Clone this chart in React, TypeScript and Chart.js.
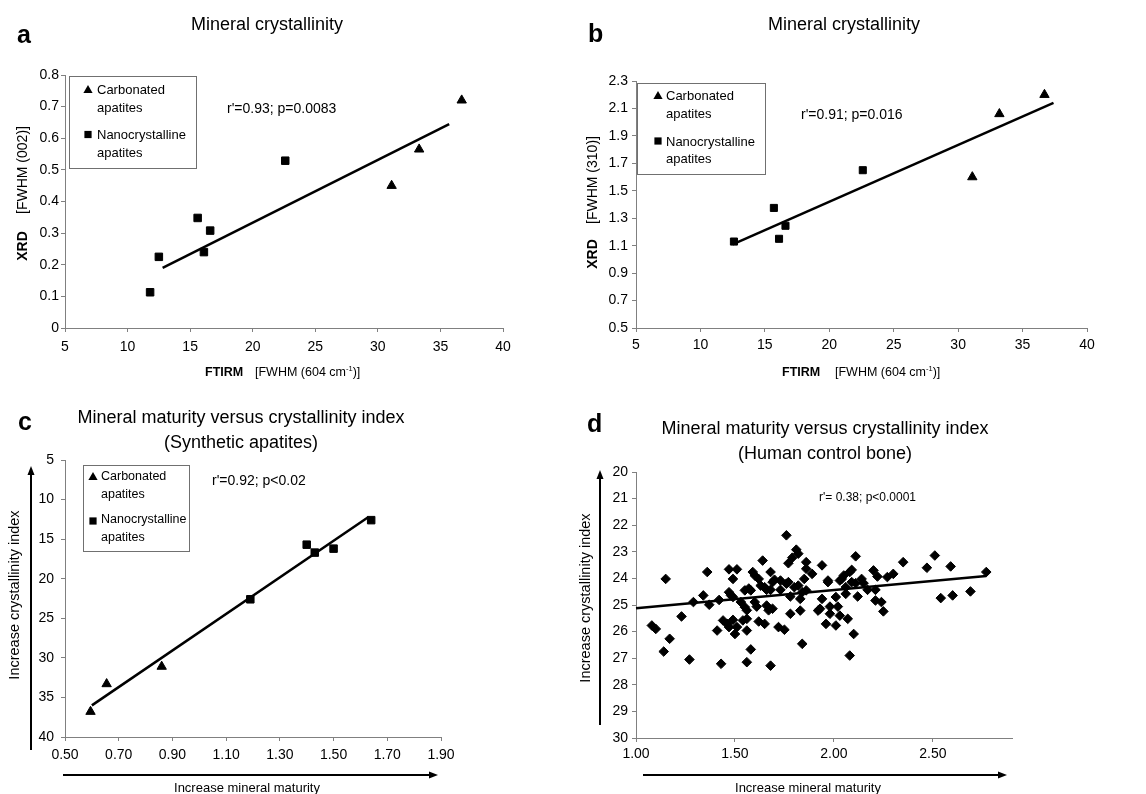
import React, { useEffect, useRef } from 'react';
import { Chart, registerables } from 'chart.js';
Chart.register(...registerables);

const FONT = '"Liberation Sans", Arial, Helvetica, sans-serif';

// ---------- Panel a: XRD (002) vs FTIRM ----------
const aCarbX = [31.1, 33.3, 36.7];
const aCarbY = [0.45, 0.565, 0.72];
const aNanoX = [11.8, 12.5, 15.6, 16.1, 16.6, 22.6];
const aNanoY = [0.113, 0.225, 0.348, 0.24, 0.308, 0.529];
const aTrendX = [12.8, 35.7];
const aTrendY = [0.19, 0.645];
const aXTicks = [5, 10, 15, 20, 25, 30, 35, 40];
const aYTicks = [0, 0.1, 0.2, 0.3, 0.4, 0.5, 0.6, 0.7, 0.8];

// ---------- Panel b: XRD (310) vs FTIRM ----------
const bCarbX = [31.1, 33.2, 36.7];
const bCarbY = [1.6, 2.06, 2.2];
const bNanoX = [12.6, 15.7, 16.1, 16.6, 22.6];
const bNanoY = [1.13, 1.375, 1.15, 1.245, 1.65];
const bTrendX = [12.5, 37.4];
const bTrendY = [1.11, 2.14];
const bXTicks = [5, 10, 15, 20, 25, 30, 35, 40];
const bYTicks = [0.5, 0.7, 0.9, 1.1, 1.3, 1.5, 1.7, 1.9, 2.1, 2.3];

// ---------- Panel c: synthetic apatites ----------
const cCarbX = [0.595, 0.655, 0.86];
const cCarbY = [36.8, 33.3, 31.1];
const cNanoX = [1.19, 1.4, 1.43, 1.5, 1.64];
const cNanoY = [22.6, 15.7, 16.7, 16.2, 12.6];
const cTrendX = [0.6, 1.63];
const cTrendY = [36.0, 12.2];
const cXTicks = [0.5, 0.7, 0.9, 1.1, 1.3, 1.5, 1.7, 1.9];
const cYTicks = [5, 10, 15, 20, 25, 30, 35, 40];

// ---------- Panel d: human control bone ----------
const dX = [
  1.08, 1.10, 1.15, 1.14, 1.17, 1.23, 1.27, 1.29, 1.34, 1.36,
  1.37, 1.42, 1.41, 1.43, 1.44, 1.46, 1.47, 1.47, 1.48, 1.49,
  1.47, 1.49, 1.49, 1.51, 1.50, 1.51, 1.54, 1.53, 1.55, 1.55,
  1.56, 1.56, 1.56, 1.56, 1.57, 1.58, 1.58, 1.59, 1.60, 1.60,
  1.61, 1.62, 1.62, 1.63, 1.64, 1.65, 1.65, 1.66, 1.66, 1.67,
  1.68, 1.68, 1.68, 1.69, 1.69, 1.70, 1.72, 1.73, 1.73, 1.75,
  1.76, 1.76, 1.77, 1.77, 1.78, 1.78, 1.79, 1.80, 1.81, 1.82,
  1.82, 1.83, 1.84, 1.83, 1.84, 1.85, 1.86, 1.86, 1.86, 1.89,
  1.94, 1.92, 1.93, 1.94, 1.96, 1.97, 1.97, 1.98, 1.98, 2.01,
  2.01, 2.02, 2.03, 2.03, 2.04, 2.05, 2.06, 2.06, 2.07, 2.08,
  2.08, 2.09, 2.09, 2.10, 2.11, 2.11, 2.12, 2.14, 2.15, 2.17,
  2.20, 2.21, 2.22, 2.21, 2.24, 2.25, 2.27, 2.30, 2.35, 2.47,
  2.51, 2.54, 2.59, 2.60, 2.69, 2.77,
];
const dY = [
  25.77, 25.90, 24.02, 26.75, 26.27, 25.43, 27.05, 24.89, 24.64, 23.76,
  24.99, 24.81, 25.96, 27.21, 25.58, 25.71, 24.52, 23.66, 24.64, 24.70,
  25.83, 25.56, 24.02, 23.66, 26.09, 25.83, 25.58, 24.89, 24.45, 25.08,
  25.96, 27.15, 25.52, 25.20, 24.38, 26.67, 24.45, 23.76, 24.89, 23.89,
  25.06, 25.62, 24.02, 24.27, 23.33, 24.33, 25.71, 25.02, 24.43, 25.20,
  27.28, 23.76, 24.43, 25.14, 24.14, 24.05, 25.83, 24.43, 24.08, 25.93,
  24.20, 22.38, 23.43, 24.14, 24.68, 25.33, 23.22, 24.33, 22.92, 24.27,
  23.07, 25.21, 26.46, 24.77, 24.52, 24.02, 23.39, 24.45, 23.64, 23.83,
  23.51, 25.21, 25.14, 24.77, 25.71, 24.08, 24.14, 25.33, 25.06, 24.70,
  25.77, 25.06, 24.08, 25.40, 24.02, 23.89, 24.33, 24.58, 25.52, 26.90,
  23.76, 23.68, 24.14, 26.09, 24.18, 23.17, 24.68, 24.02, 24.18, 24.43,
  23.70, 24.43, 23.93, 24.83, 24.89, 25.24, 23.95, 23.83, 23.39, 23.60,
  23.14, 24.74, 23.55, 24.64, 24.49, 23.76,
];
const dTrendX = [1.0, 2.77];
const dTrendY = [25.12, 23.91];
const dXTicks = [1.0, 1.5, 2.0, 2.5];
const dYTicks = [20, 21, 22, 23, 24, 25, 26, 27, 28, 29, 30];

const zip = (xs: number[], ys: number[]) => xs.map((x, i) => ({ x, y: ys[i] }));

type AxisSpec = {
  min: number; max: number; ticks: number[]; fmt: (v: number) => string;
  pad: number; size: number; horizontal: boolean; reverse?: boolean;
};

function axis(s: AxisSpec): any {
  return {
    type: 'linear',
    position: s.horizontal ? 'bottom' : 'left',
    min: s.min,
    max: s.max,
    reverse: !!s.reverse,
    bounds: 'data',
    afterBuildTicks: (sc: any) => { sc.ticks = s.ticks.map((v) => ({ value: v })); },
    afterFit: (sc: any) => { if (s.horizontal) sc.height = s.size; else sc.width = s.size; },
    ticks: {
      callback: (v: any) => s.fmt(Number(v)),
      color: '#000',
      font: { family: FONT, size: 14 },
      padding: s.pad,
      autoSkip: false,
      maxRotation: 0,
      minRotation: 0,
    },
    grid: { drawOnChartArea: false, drawTicks: true, tickLength: 4, color: '#808080', lineWidth: 1 },
    border: { display: true, color: '#808080', width: 1 },
  };
}

function markers(xs: number[], ys: number[], style: string, r: number): any {
  return {
    data: zip(xs, ys), pointStyle: style, pointRadius: r, pointHoverRadius: r,
    backgroundColor: '#000', borderColor: '#000', borderWidth: 1, showLine: false, clip: false,
  };
}
function trend(xs: number[], ys: number[]): any {
  return {
    data: zip(xs, ys), showLine: true, borderColor: '#000', borderWidth: 2.5,
    pointRadius: 0, pointHoverRadius: 0, fill: false, clip: false,
  };
}

function config(datasets: any[], x: any, y: any, padding: any): any {
  return {
    type: 'scatter',
    data: { datasets },
    options: {
      responsive: false,
      maintainAspectRatio: false,
      animation: false,
      events: [],
      layout: { padding },
      plugins: { legend: { display: false }, tooltip: { enabled: false }, title: { display: false } },
      scales: { x, y },
    },
  };
}

const fmt1 = (v: number) => (Math.abs(v) < 1e-9 ? '0' : v.toFixed(1));
const fmt2 = (v: number) => v.toFixed(2);
const fmt0 = (v: number) => String(Math.round(v));

const W = 573;
const H = 397;

const builders = [
  () => config(
    [trend(aTrendX, aTrendY), markers(aCarbX, aCarbY, 'triangle', 5.4), markers(aNanoX, aNanoY, 'rect', 5.3)],
    axis({ min: 5, max: 40, ticks: aXTicks, fmt: fmt0, pad: 7, size: 30, horizontal: true }),
    axis({ min: 0, max: 0.8, ticks: aYTicks, fmt: fmt1, pad: 2, size: 65, horizontal: false }),
    { left: 0, top: 75, right: W - 503, bottom: H - 328 - 30 },
  ),
  () => config(
    [trend(bTrendX, bTrendY), markers(bCarbX, bCarbY, 'triangle', 5.4), markers(bNanoX, bNanoY, 'rect', 5.0)],
    axis({ min: 5, max: 40, ticks: bXTicks, fmt: fmt0, pad: 5, size: 30, horizontal: true }),
    axis({ min: 0.5, max: 2.3, ticks: bYTicks, fmt: fmt1, pad: 4, size: 63, horizontal: false }),
    { left: 0, top: 81, right: W - 514, bottom: H - 328 - 30 },
  ),
  () => config(
    [trend(cTrendX, cTrendY), markers(cCarbX, cCarbY, 'triangle', 5.4), markers(cNanoX, cNanoY, 'rect', 5.3)],
    axis({ min: 0.5, max: 1.9, ticks: cXTicks, fmt: fmt2, pad: 6, size: 30, horizontal: true }),
    axis({ min: 5, max: 40, ticks: cYTicks, fmt: fmt0, pad: 7, size: 65, horizontal: false, reverse: true }),
    { left: 0, top: 63, right: W - 441, bottom: H - 340 - 30 },
  ),
  () => config(
    [trend(dTrendX, dTrendY), markers(dX, dY, 'rectRot', 4.8)],
    axis({ min: 1.0, max: 2.9, ticks: dXTicks, fmt: fmt2, pad: 4, size: 30, horizontal: true }),
    axis({ min: 20, max: 30, ticks: dYTicks, fmt: fmt0, pad: 4, size: 63, horizontal: false, reverse: true }),
    { left: 0, top: 75, right: W - 439, bottom: H - 341 - 30 },
  ),
];

function ChartBox({ left, top, build }: { left: number; top: number; build: () => any }) {
  const ref = useRef<HTMLCanvasElement>(null);
  useEffect(() => {
    const chart = new Chart(ref.current as HTMLCanvasElement, build());
    return () => chart.destroy();
  }, []);
  return (
    <div style={{ position: 'absolute', left, top, width: W, height: H }}>
      <canvas ref={ref} width={W} height={H} style={{ width: W, height: H, display: 'block' }} />
    </div>
  );
}

function Txt({ x, base, fs, bold, center, children }: any) {
  const style: any = {
    position: 'absolute', left: x, top: base - 0.8465 * fs, fontSize: fs, lineHeight: fs + 'px',
    fontFamily: FONT, fontWeight: bold ? 700 : 400, whiteSpace: 'nowrap', color: '#000',
  };
  if (center) style.transform = 'translateX(-50%)';
  return <div style={style}>{children}</div>;
}

function VTxt({ cx, cy, fs, bold, children }: any) {
  return (
    <div style={{
      position: 'absolute', left: cx, top: cy, fontSize: fs, lineHeight: fs + 'px', fontFamily: FONT,
      fontWeight: bold ? 700 : 400, whiteSpace: 'nowrap', color: '#000',
      transform: 'translate(-50%,-50%) rotate(-90deg)',
    }}>{children}</div>
  );
}

function Box({ x, y, w, h }: any) {
  return <div style={{ position: 'absolute', left: x, top: y, width: w, height: h, border: '1px solid #707070', boxSizing: 'border-box' }} />;
}

function LegendMarks({ tri, sq }: any) {
  return (
    <svg width={1146} height={794} style={{ position: 'absolute', left: 0, top: 0, pointerEvents: 'none' }}>
      {tri.map((p: number[], i: number) => (
        <polygon key={'t' + i} points={`${p[0]},${p[1] - 4.5} ${p[0] + 4.6},${p[1] + 3.5} ${p[0] - 4.6},${p[1] + 3.5}`} fill="#000" />
      ))}
      {sq.map((p: number[], i: number) => (
        <rect key={'s' + i} x={p[0] - 3.6} y={p[1] - 3.6} width={7.2} height={7.2} fill="#000" />
      ))}
    </svg>
  );
}

function Arrows() {
  const head = (x: number, y: number, dir: 'up' | 'right') =>
    dir === 'up'
      ? `${x},${y} ${x + 3.5},${y + 9} ${x - 3.5},${y + 9}`
      : `${x},${y} ${x - 9},${y - 3.5} ${x - 9},${y + 3.5}`;
  return (
    <svg width={1146} height={794} style={{ position: 'absolute', left: 0, top: 0, pointerEvents: 'none' }}>
      <line x1={31} y1={750} x2={31} y2={474} stroke="#000" strokeWidth={2} />
      <polygon points={head(31, 466, 'up')} fill="#000" />
      <line x1={63} y1={775} x2={430} y2={775} stroke="#000" strokeWidth={2} />
      <polygon points={head(438, 775, 'right')} fill="#000" />
      <line x1={600} y1={725} x2={600} y2={478} stroke="#000" strokeWidth={2} />
      <polygon points={head(600, 470, 'up')} fill="#000" />
      <line x1={643} y1={775} x2={999} y2={775} stroke="#000" strokeWidth={2} />
      <polygon points={head(1007, 775, 'right')} fill="#000" />
    </svg>
  );
}

const cm = (
  <span>cm<sup style={{ fontSize: '0.6em', lineHeight: 0, verticalAlign: 'super' }}>-1</sup></span>
);

export default function App() {
  return (
    <div style={{ position: 'absolute', left: 0, top: 0, width: 1146, height: 794, background: '#fff', overflow: 'hidden' }}>
      <ChartBox left={0} top={0} build={builders[0]} />
      <ChartBox left={573} top={0} build={builders[1]} />
      <ChartBox left={0} top={397} build={builders[2]} />
      <ChartBox left={573} top={397} build={builders[3]} />

      {/* Panel a */}
      <Txt x={17} base={43} fs={25} bold>a</Txt>
      <Txt x={267} base={30.5} fs={18} center>Mineral crystallinity</Txt>
      <Box x={69} y={76} w={128} h={93} />
      <Txt x={97} base={94.3} fs={13}>Carbonated</Txt>
      <Txt x={97} base={111.7} fs={13}>apatites</Txt>
      <Txt x={97} base={139.3} fs={13}>Nanocrystalline</Txt>
      <Txt x={97} base={156.7} fs={13}>apatites</Txt>
      <Txt x={227} base={113.3} fs={14}>r'=0.93; p=0.0083</Txt>
      <Txt x={205} base={377} fs={12.5} bold>FTIRM</Txt>
      <Txt x={255} base={377} fs={12.5}>[FWHM (604 {cm})]</Txt>
      <VTxt cx={22} cy={246} fs={14} bold>XRD</VTxt>
      <VTxt cx={22} cy={170} fs={14}>[FWHM (002)]</VTxt>

      {/* Panel b */}
      <Txt x={588} base={42} fs={25} bold>b</Txt>
      <Txt x={844} base={30.5} fs={18} center>Mineral crystallinity</Txt>
      <Box x={637} y={83} w={129} h={92} />
      <Txt x={666} base={100} fs={13}>Carbonated</Txt>
      <Txt x={666} base={117.7} fs={13}>apatites</Txt>
      <Txt x={666} base={145.7} fs={13}>Nanocrystalline</Txt>
      <Txt x={666} base={163.3} fs={13}>apatites</Txt>
      <Txt x={801} base={119} fs={14}>r'=0.91; p=0.016</Txt>
      <Txt x={782} base={376.7} fs={12.5} bold>FTIRM</Txt>
      <Txt x={835} base={376.7} fs={12.5}>[FWHM (604 {cm})]</Txt>
      <VTxt cx={591.7} cy={253.5} fs={14} bold>XRD</VTxt>
      <VTxt cx={591.7} cy={180} fs={14}>[FWHM (310)]</VTxt>

      {/* Panel c */}
      <Txt x={18} base={430} fs={25} bold>c</Txt>
      <Txt x={241} base={423.5} fs={18} center>Mineral maturity versus crystallinity index</Txt>
      <Txt x={241} base={448.7} fs={18} center>(Synthetic apatites)</Txt>
      <Box x={83} y={465} w={107} h={87} />
      <Txt x={101} base={481} fs={12.5}>Carbonated</Txt>
      <Txt x={101} base={498.7} fs={12.5}>apatites</Txt>
      <Txt x={101} base={523.7} fs={12.5}>Nanocrystalline</Txt>
      <Txt x={101} base={541.3} fs={12.5}>apatites</Txt>
      <Txt x={212} base={484.7} fs={14}>r'=0.92; p&lt;0.02</Txt>
      <VTxt cx={13.5} cy={595} fs={14.5}>Increase crystallinity index</VTxt>
      <Txt x={247} base={792} fs={13} center>Increase mineral maturity</Txt>

      {/* Panel d */}
      <Txt x={587} base={432} fs={25} bold>d</Txt>
      <Txt x={825} base={434.5} fs={18} center>Mineral maturity versus crystallinity index</Txt>
      <Txt x={825} base={459.7} fs={18} center>(Human control bone)</Txt>
      <Txt x={819} base={501} fs={12}>r'= 0.38; p&lt;0.0001</Txt>
      <VTxt cx={585} cy={597.5} fs={14.5}>Increase crystallinity index</VTxt>
      <Txt x={808} base={792} fs={13} center>Increase mineral maturity</Txt>

      <LegendMarks
        tri={[[88, 89.5], [658, 95.5], [93, 476.5]]}
        sq={[[88, 134.5], [658, 141], [93, 521]]}
      />
      <Arrows />
    </div>
  );
}
